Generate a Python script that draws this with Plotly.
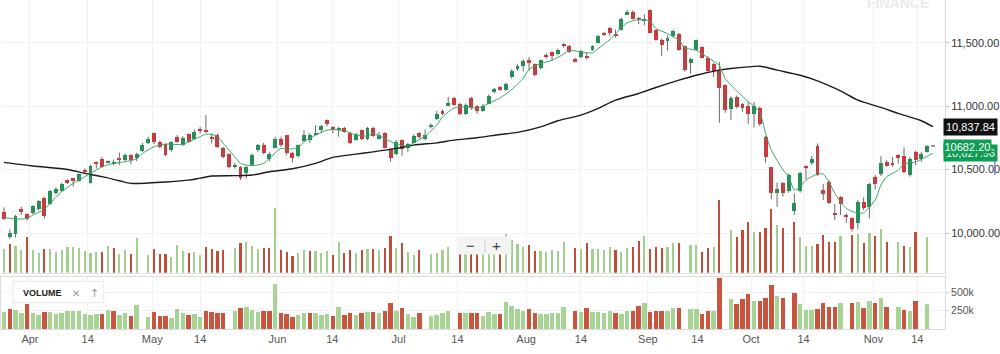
import plotly.graph_objects as go

# ---------------- data ----------------
opens = [10163, 9966, 9990, 10186, 10147, 10155, 10186, 10276, 10231, 10318,
         10333, 10417, 10430, 10410, 10494, 10396, 10557, 10580, 10554, 10549,
         10591, 10575, 10612, 10588, 10648, 10706, 10785, 10719, 10701, 10654,
         10759, 10693, 10777, 10738, 10816, 10816, 10759, 10772, 10672, 10622,
         10522, 10522, 10470, 10535, 10654, 10690, 10580, 10672, 10738, 10769,
         10633, 10606, 10727, 10732, 10774, 10811, 10890, 10832, 10811, 10829,
         10790, 10732, 10811, 10738, 10827, 10745, 10785, 10661, 10622, 10732,
         10667, 10711, 10785, 10738, 10837, 10895, 10958, 11005, 11063, 11016,
         10942, 11063, 11000, 10963, 11021, 11110, 11152, 11131, 11231, 11294,
         11315, 11362, 11331, 11297, 11404, 11425, 11410, 11494, 11478, 11368,
         11389, 11399, 11441, 11499, 11578, 11620, 11572, 11604, 11725, 11746,
         11693, 11677, 11756, 11599, 11520, 11515, 11557, 11572, 11473, 11341,
         11446, 11467, 11383, 11331, 11278, 11163, 10974, 11074, 11016, 11000,
         10937, 10982, 10759, 10517, 10312, 10391, 10333, 10176, 10333, 10528,
         10549, 10685, 10339, 10404, 10155, 10281, 10142, 10115, 10081, 10247,
         10207, 10444, 10465, 10559, 10554, 10614, 10606, 10457, 10640, 10585,
         10640, 10682.20]
highs = [10202, 10029, 10142, 10207, 10155, 10220, 10260, 10286, 10339, 10360,
         10396, 10423, 10436, 10470, 10509, 10538, 10564, 10601, 10572, 10580,
         10635, 10627, 10622, 10633, 10711, 10759, 10790, 10727, 10706, 10722,
         10772, 10764, 10785, 10816, 10837, 10929, 10785, 10785, 10680, 10627,
         10554, 10528, 10528, 10627, 10701, 10711, 10640, 10759, 10759, 10772,
         10640, 10698, 10811, 10785, 10850, 10853, 10895, 10843, 10837, 10837,
         10798, 10790, 10816, 10837, 10837, 10798, 10795, 10667, 10732, 10738,
         10711, 10777, 10795, 10816, 10864, 10961, 10974, 11074, 11074, 11026,
         11021, 11074, 11008, 11016, 11092, 11144, 11158, 11184, 11289, 11331,
         11368, 11389, 11336, 11368, 11415, 11433, 11454, 11499, 11483, 11383,
         11446, 11420, 11480, 11562, 11585, 11625, 11604, 11698, 11761, 11756,
         11704, 11725, 11761, 11604, 11533, 11559, 11604, 11578, 11478, 11383,
         11525, 11473, 11394, 11341, 11349, 11173, 11079, 11084, 11026, 11034,
         11034, 10995, 10764, 10522, 10396, 10402, 10470, 10312, 10483, 10535,
         10606, 10706, 10386, 10417, 10228, 10291, 10155, 10123, 10260, 10281,
         10396, 10457, 10606, 10575, 10601, 10622, 10675, 10601, 10648, 10640,
         10693, 10682.20]
lows = [10102, 9955, 9966, 10142, 10097, 10150, 10176, 10115, 10223, 10302,
        10325, 10386, 10365, 10404, 10470, 10391, 10509, 10515, 10549, 10535,
        10535, 10564, 10541, 10567, 10640, 10701, 10701, 10667, 10606, 10640,
        10711, 10685, 10711, 10732, 10785, 10790, 10706, 10672, 10588, 10509,
        10509, 10417, 10430, 10528, 10640, 10622, 10564, 10667, 10680, 10614,
        10557, 10596, 10719, 10711, 10769, 10785, 10843, 10785, 10759, 10790,
        10701, 10727, 10732, 10732, 10759, 10738, 10667, 10562, 10614, 10609,
        10640, 10706, 10745, 10732, 10824, 10890, 10929, 11000, 11000, 10929,
        10929, 10969, 10942, 10956, 11016, 11100, 11121, 11121, 11218, 11278,
        11273, 11278, 11236, 11289, 11376, 11362, 11402, 11462, 11420, 11347,
        11376, 11368, 11436, 11494, 11551, 11551, 11541, 11599, 11717, 11683,
        11646, 11638, 11572, 11515, 11394, 11436, 11541, 11436, 11271, 11255,
        11436, 11376, 11271, 11231, 10869, 10948, 10890, 10982, 10956, 10858,
        10832, 10843, 10554, 10265, 10207, 10286, 10318, 10142, 10318, 10425,
        10535, 10449, 10260, 10228, 10102, 10142, 10081, 10011, 10029, 10181,
        10115, 10344, 10449, 10522, 10522, 10549, 10470, 10444, 10535, 10562,
        10633, 10682.20]
closes = [10110, 10003, 10134, 10171, 10110, 10213, 10249, 10134, 10328, 10344,
          10386, 10402, 10415, 10462, 10478, 10530, 10541, 10522, 10567, 10562,
          10575, 10614, 10575, 10620, 10693, 10743, 10719, 10680, 10614, 10717,
          10719, 10751, 10719, 10800, 10806, 10801, 10743, 10680, 10596, 10522,
          10538, 10430, 10522, 10614, 10690, 10633, 10622, 10738, 10693, 10627,
          10593, 10690, 10775, 10772, 10790, 10843, 10856, 10811, 10827, 10798,
          10711, 10780, 10738, 10827, 10764, 10774, 10672, 10588, 10719, 10659,
          10698, 10766, 10753, 10774, 10853, 10940, 10942, 11026, 11011, 10937,
          11008, 10982, 10963, 11005, 11082, 11137, 11131, 11171, 11278, 11320,
          11357, 11347, 11244, 11362, 11389, 11392, 11446, 11473, 11428, 11352,
          11436, 11383, 11473, 11551, 11559, 11578, 11557, 11690, 11740, 11690,
          11677, 11688, 11578, 11525, 11480, 11541, 11593, 11441, 11284, 11373,
          11520, 11383, 11278, 11278, 11147, 10969, 11068, 10990, 10982, 10937,
          11000, 10858, 10601, 10318, 10349, 10312, 10457, 10234, 10470, 10514,
          10585, 10457, 10307, 10239, 10142, 10228, 10123, 10029, 10247, 10194,
          10390, 10386, 10554, 10528, 10533, 10588, 10483, 10585, 10575, 10622,
          10682.20, 10682.20]
volumes_k = [226, 272, 254, 213, 335, 213, 190, 226, 226, 195,
             213, 245, 245, 236, 204, 186, 195, 195, 254, 236,
             181, 213, 177, 326, 0, 163, 226, 177, 177, 150,
             263, 208, 186, 195, 163, 245, 226, 208, 213, 0,
             236, 285, 294, 254, 226, 236, 236, 612, 213, 195,
             154, 186, 213, 208, 208, 186, 204, 172, 294, 186,
             217, 186, 217, 226, 226, 217, 236, 344, 236, 285,
             195, 163, 217, 0, 177, 186, 217, 245, 0, 208,
             208, 217, 208, 177, 226, 204, 199, 362, 308, 272,
             245, 263, 208, 204, 195, 217, 208, 294, 0, 236,
             226, 281, 226, 226, 217, 245, 217, 195, 236, 245,
             304, 344, 226, 245, 236, 245, 281, 281, 0, 263,
             263, 195, 236, 245, 689, 0, 403, 335, 403, 476,
             381, 381, 421, 598, 448, 421, 0, 480, 335, 254,
             254, 272, 353, 294, 294, 344, 0, 353, 362, 285,
             371, 344, 412, 294, 0, 294, 254, 245, 381, 0,
             335, 0]

# short moving average (green) read at sample sessions
ma_short_idx = [0, 2, 4, 5, 7, 8, 10, 12, 14, 15, 17, 19, 21, 23, 24, 26, 28, 31, 32, 34,
                35, 37, 38, 40, 41, 43, 45, 46, 48, 49, 51, 52, 54, 56, 57, 59, 61, 63, 64, 66,
                68, 70, 71, 73, 75, 76, 78, 80, 82, 83, 86, 88, 90, 91, 93, 95, 97, 98, 100, 102,
                103, 105, 106, 108, 110, 112, 113, 115, 117, 118, 120, 122, 124, 125, 127, 129, 130, 131, 132, 133,
                135, 136, 137, 138, 139, 141, 142, 143, 144, 146, 148, 149, 151, 152, 153, 155, 156, 158, 159, 161]
ma_short_val = [10123, 10110, 10115, 10142, 10186, 10234, 10326, 10391, 10444, 10470, 10522, 10549, 10562, 10585, 10627, 10680, 10701, 10698, 10719, 10759,
                10780, 10764, 10706, 10601, 10549, 10530, 10549, 10588, 10667, 10659, 10675, 10719, 10772, 10811, 10816, 10806, 10772, 10764, 10785, 10745,
                10701, 10685, 10711, 10764, 10850, 10915, 10985, 10995, 10982, 11000, 11065, 11131, 11220, 11289, 11336, 11362, 11410, 11441, 11428, 11420,
                11454, 11525, 11572, 11656, 11683, 11670, 11612, 11572, 11520, 11460, 11441, 11383, 11320, 11218, 11121, 11035, 11000, 10956, 10785, 10654,
                10500, 10444, 10339, 10365, 10417, 10465, 10465, 10404, 10312, 10194, 10155, 10160, 10260, 10378, 10444, 10496, 10543, 10560, 10580, 10627.96]

# long moving average (black) read at sample sessions
ma_long_idx = [0, 5, 11, 14, 17, 20, 22, 25, 28, 32, 34, 36, 40, 43, 46, 50, 54, 57, 61, 64,
               68, 71, 75, 78, 82, 86, 89, 93, 96, 100, 103, 106, 110, 113, 117, 120, 124, 126, 129, 131,
               134, 138, 141, 145, 148, 152, 155, 159, 161]
ma_long_val = [10557, 10528, 10501, 10470, 10444, 10412, 10391, 10394, 10402, 10417, 10433, 10449, 10452, 10457, 10483, 10507, 10549, 10596, 10622, 10640,
               10667, 10693, 10711, 10732, 10751, 10777, 10793, 10837, 10885, 10929, 10982, 11047, 11100, 11147, 11205, 11244, 11284, 11297, 11310, 11315,
               11284, 11244, 11200, 11121, 11047, 10990, 10943, 10885, 10837.84]

tick_text = ["Apr", "14", "May", "14", "Jun", "14", "Jul", "14",
             "Aug", "14", "Sep", "14", "Oct", "14", "Nov", "14"]
tick_pos = [4.5, 14.5, 25.7, 34.0, 47.4, 56.9, 68.4, 78.6,
            90.5, 100.0, 111.6, 120.2, 129.5, 138.6, 150.7, 158.3]

price_ticks = [10000, 10500, 11000, 11500]
vol_ticks_k = [250, 500]
vol_tick_text = ["250k", "500k"]

last_ma_long = 10837.84
last_close = 10682.20
last_ma_short = 10627.96

# ---------------- styling ----------------
GREEN = "#0e9d52"
RED = "#eb2a30"
FLAT = "#9a9a9a"
VOL_G = "#a7d395"
VOL_R = "#c9553f"
VOL_G2 = "#a3cf8e"
VOL_R2 = "#c04d39"
WICK = "#6a6a6a"
GRID = "#f1f1f1"
FONT = "Liberation Sans, Arial, Helvetica, sans-serif"

PLOT_W, PLOT_H = 949, 329


def px_x(x):
    return x / PLOT_W


def px_y(y):
    return (PLOT_H - y) / PLOT_H


n = len(closes)
idx = list(range(n))

body_color = [GREEN if c > o else (RED if c < o else FLAT) for o, c in zip(opens, closes)]
body_base = [min(o, c) for o, c in zip(opens, closes)]
body_h = [max(abs(c - o), 7) for o, c in zip(opens, closes)]

vol_up = [True] + [closes[i] >= closes[i - 1] for i in range(1, n)]
vol_col_main = [VOL_G2 if u else VOL_R2 for u in vol_up]
vol_col_pane = [VOL_G if u else VOL_R for u in vol_up]
vols = [v * 1000 for v in volumes_k]

wx, wy = [], []
for i, (h, l) in enumerate(zip(highs, lows)):
    if h > l:
        wx += [i, i, None]
        wy += [l, h, None]

fig = go.Figure()

# wicks
fig.add_trace(go.Scatter(x=wx, y=wy, mode="lines", line=dict(color=WICK, width=1),
                         xaxis="x", yaxis="y", hoverinfo="skip", showlegend=False))
# bodies
fig.add_trace(go.Bar(x=idx, y=body_h, base=body_base, width=0.68,
                     marker=dict(color=body_color, line=dict(width=0)),
                     xaxis="x", yaxis="y", showlegend=False))
# moving averages
fig.add_trace(go.Scatter(x=ma_long_idx, y=ma_long_val, mode="lines",
                         line=dict(color="#1b1b1b", width=1.4, shape="spline", smoothing=0.8),
                         xaxis="x", yaxis="y", showlegend=False))
fig.add_trace(go.Scatter(x=ma_short_idx, y=ma_short_val, mode="lines",
                         line=dict(color="#3aa866", width=1, shape="spline", smoothing=0.6),
                         xaxis="x", yaxis="y", showlegend=False))
# volume overlay in main pane
fig.add_trace(go.Bar(x=idx, y=vols, width=0.38,
                     marker=dict(color=vol_col_main, line=dict(width=0)),
                     xaxis="x", yaxis="y3", showlegend=False))
# volume pane
fig.add_trace(go.Bar(x=idx, y=vols, width=0.78,
                     marker=dict(color=vol_col_pane, line=dict(width=0)),
                     xaxis="x2", yaxis="y2", showlegend=False))

x_range = [-3 / 5.8, (PLOT_W - 3) / 5.8]
main_bottom_px = 272.7
vol_top_px = 277.3

fig.update_layout(
    width=1000, height=354,
    margin=dict(l=0, r=1000 - PLOT_W, t=0, b=354 - PLOT_H),
    paper_bgcolor="white", plot_bgcolor="white",
    barmode="overlay", bargap=0, showlegend=False,
    font=dict(family=FONT, size=11, color="#333"),
    xaxis=dict(domain=[0, 1], range=x_range, anchor="y",
               tickmode="array", tickvals=tick_pos, ticktext=tick_text,
               showticklabels=False, showgrid=True, gridcolor=GRID, gridwidth=1,
               zeroline=False, showline=True, linecolor="#e4e4e4", linewidth=1, ticks=""),
    yaxis=dict(domain=[px_y(main_bottom_px), 1], range=[9687, 11837], side="right",
               tickmode="array", tickvals=price_ticks, tickformat=",.2f",
               showgrid=True, gridcolor=GRID, zeroline=False,
               showline=True, linecolor="#d6d6d6", linewidth=1,
               ticks="outside", ticklen=3, tickcolor="#bbb",
               tickfont=dict(size=11, color="#333")),
    yaxis3=dict(overlaying="y", range=[0, 2580000], visible=False),
    xaxis2=dict(domain=[0, 1], range=x_range, anchor="y2", matches="x",
                tickmode="array", tickvals=tick_pos, ticktext=tick_text,
                showgrid=True, gridcolor=GRID, zeroline=False,
                showline=True, linecolor="#dcdcdc", mirror=True, ticks="",
                tickfont=dict(size=11, color="#555")),
    yaxis2=dict(domain=[0, px_y(vol_top_px)], range=[0, 702000], side="right", anchor="x2",
                tickmode="array", tickvals=[v * 1000 for v in vol_ticks_k], ticktext=vol_tick_text,
                showgrid=True, gridcolor=GRID, zeroline=False,
                showline=True, linecolor="#dcdcdc", mirror=True,
                ticks="outside", ticklen=3, tickcolor="#ccc",
                tickfont=dict(size=10.5, color="#555")),
)

annotations = []
shapes = []

# price tags on the right axis
annotations.append(dict(xref="paper", yref="y", x=px_x(947), y=last_ma_short, xanchor="left", yanchor="middle",
                        text=f"{last_ma_short:,.2f}", showarrow=False, bgcolor=GREEN, borderpad=2,
                        font=dict(color="white", size=11, family=FONT)))
annotations.append(dict(xref="paper", yref="y", x=px_x(947), y=last_close, xanchor="left", yanchor="middle",
                        text=f"{last_close:.2f}", showarrow=False, bgcolor=GREEN, borderpad=0.5,
                        font=dict(color="white", size=11, family=FONT)))
annotations.append(dict(xref="paper", yref="y", x=px_x(947), y=last_ma_long, xanchor="left", yanchor="middle",
                        text=f"{last_ma_long:,.2f}", showarrow=False, bgcolor="#111111", borderpad=2,
                        font=dict(color="white", size=11, family=FONT)))

# watermark
annotations.append(dict(xref="paper", yref="paper", x=px_x(902), y=px_y(3.5), xanchor="center", yanchor="middle",
                        text="<b>FINANCE</b>", showarrow=False,
                        font=dict(color="#ebebeb", size=14, family=FONT)))

# VOLUME study label box
shapes.append(dict(type="rect", xref="paper", yref="paper", layer="above",
                   x0=px_x(11), x1=px_x(104), y0=px_y(303.5), y1=px_y(280.5),
                   fillcolor="rgba(0,0,0,0.04)", line=dict(width=0)))
shapes.append(dict(type="rect", xref="paper", yref="paper", layer="above",
                   x0=px_x(12), x1=px_x(103), y0=px_y(302.5), y1=px_y(281.5),
                   fillcolor="white", line=dict(color="#ececec", width=1)))
annotations.append(dict(xref="paper", yref="paper", x=px_x(20), y=px_y(293), xanchor="left", yanchor="middle",
                        text="<b>VOLUME</b>", showarrow=False, font=dict(color="#222", size=9, family=FONT)))
annotations.append(dict(xref="paper", yref="paper", x=px_x(75.5), y=px_y(293), xanchor="center", yanchor="middle",
                        text="✕", showarrow=False, font=dict(color="#9a9a9a", size=10, family="DejaVu Sans")))
annotations.append(dict(xref="paper", yref="paper", x=px_x(93.5), y=px_y(293), xanchor="center", yanchor="middle",
                        text="↑", showarrow=False, font=dict(color="#9a9a9a", size=11, family="DejaVu Sans")))

# zoom control
shapes.append(dict(type="rect", xref="paper", yref="paper", layer="above",
                   x0=px_x(458), x1=px_x(513), y0=px_y(254.5), y1=px_y(236.5),
                   fillcolor="#f4f4f4", line=dict(width=0)))
shapes.append(dict(type="line", xref="paper", yref="paper", layer="above",
                   x0=px_x(486.5), x1=px_x(486.5), y0=px_y(252), y1=px_y(239),
                   line=dict(color="#cfcfcf", width=1)))
annotations.append(dict(xref="paper", yref="paper", x=px_x(472), y=px_y(245.5), xanchor="center", yanchor="middle",
                        text="−", showarrow=False, font=dict(color="#444", size=15, family=FONT)))
annotations.append(dict(xref="paper", yref="paper", x=px_x(498), y=px_y(245.5), xanchor="center", yanchor="middle",
                        text="+", showarrow=False, font=dict(color="#444", size=15, family=FONT)))

# small marker at far right edge
shapes.append(dict(type="line", xref="paper", yref="paper", layer="above",
                   x0=px_x(999), x1=px_x(999), y0=px_y(147), y1=px_y(175),
                   line=dict(color="#8b80d6", width=1.5)))

fig.update_layout(annotations=annotations, shapes=shapes)

fig.write_html("out.html")
